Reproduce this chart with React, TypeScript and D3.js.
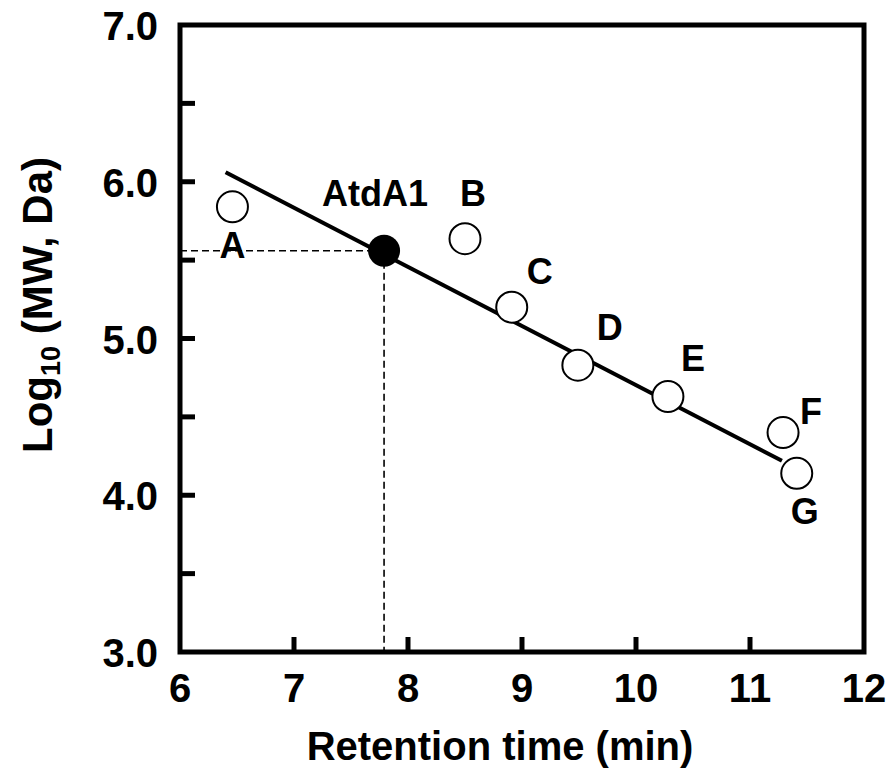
import React from "react";
import * as d3 from "d3";

const labels = ["A", "B", "C", "D", "E", "F", "G"];
const retention = [6.46, 8.5, 8.91, 9.49, 10.28, 11.29, 11.41];
const logMW = [5.84, 5.637, 5.2, 4.83, 4.63, 4.4, 4.14];
const sample = { label: "AtdA1", x: 7.79, y: 5.56 };
const fitX = [6.4, 11.28];
const fitY = [6.06, 4.22];
const xTicks = [6, 7, 8, 9, 10, 11, 12];
const yTicks = [3, 3.5, 4, 4.5, 5, 5.5, 6, 6.5, 7];
const yTickLabels = ["3.0", "", "4.0", "", "5.0", "", "6.0", "", "7.0"];
const labelOffsets: [number, number][] = [
  [0, 38], [8, -46], [28, -36], [32, -38], [25, -38], [28, -22], [8, 38],
];

export default function App() {
  const W = 896, H = 774;
  const x = d3.scaleLinear().domain([6, 12]).range([180, 864]);
  const y = d3.scaleLinear().domain([3, 7]).range([652, 25]);
  const font = "Arial, 'Liberation Sans', sans-serif";
  const line = d3.line<[number, number]>().x(d => x(d[0])).y(d => y(d[1]));
  return (
    <svg width={W} height={H} style={{ position: "absolute", left: 0, top: 0 }} fontFamily={font} fontWeight="bold">
      <rect width={W} height={H} fill="#fff" />
      {/* dashed guides */}
      <line x1={x(6)} x2={x(sample.x)} y1={y(sample.y)} y2={y(sample.y)} stroke="#000" strokeWidth={1.6} strokeDasharray="7,4" />
      <line x1={x(sample.x)} x2={x(sample.x)} y1={y(sample.y)} y2={y(3)} stroke="#000" strokeWidth={1.6} strokeDasharray="7,4" />
      {/* fit line */}
      <path d={line([[fitX[0], fitY[0]], [fitX[1], fitY[1]]]) || ""} stroke="#000" strokeWidth={4} fill="none" />
      {/* frame */}
      <rect x={x(6)} y={y(7)} width={x(12) - x(6)} height={y(3) - y(7)} fill="none" stroke="#000" strokeWidth={5} />
      {xTicks.slice(1, -1).map(t => (
        <line key={"xt" + t} x1={x(t)} x2={x(t)} y1={y(3)} y2={y(3) - 15} stroke="#000" strokeWidth={5} />
      ))}
      {yTicks.slice(1, -1).map(t => (
        <line key={"yt" + t} x1={x(6)} x2={x(6) + 15} y1={y(t)} y2={y(t)} stroke="#000" strokeWidth={5} />
      ))}
      {xTicks.map(t => (
        <text key={"xl" + t} x={x(t)} y={y(3) + 50} textAnchor="middle" fontSize={40}>{t}</text>
      ))}
      {yTicks.map((t, i) => yTickLabels[i] ? (
        <text key={"yl" + t} x={158} y={y(t) + 15} textAnchor="end" fontSize={40}>{yTickLabels[i]}</text>
      ) : null)}
      {/* points */}
      {retention.map((r, i) => (
        <circle key={"p" + i} cx={x(r)} cy={y(logMW[i])} r={15.5} fill="#fff" stroke="#000" strokeWidth={2} />
      ))}
      <circle cx={x(sample.x)} cy={y(sample.y)} r={16} fill="#000" />
      {retention.map((r, i) => (
        <text key={"l" + i} x={x(r) + labelOffsets[i][0]} y={y(logMW[i]) + labelOffsets[i][1] + 13} textAnchor="middle" fontSize={36}>{labels[i]}</text>
      ))}
      <text x={x(sample.x) - 9} y={y(sample.y) - 45} textAnchor="middle" fontSize={36}>{sample.label}</text>
      {/* axis titles */}
      <text x={500} y={760} textAnchor="middle" fontSize={40}>Retention time (min)</text>
      <text transform="translate(52,305) rotate(-90)" textAnchor="middle" fontSize={42}>
        Log<tspan fontSize={27} dy={8}>10</tspan><tspan dy={-8}> (MW, Da)</tspan>
      </text>
    </svg>
  );
}
